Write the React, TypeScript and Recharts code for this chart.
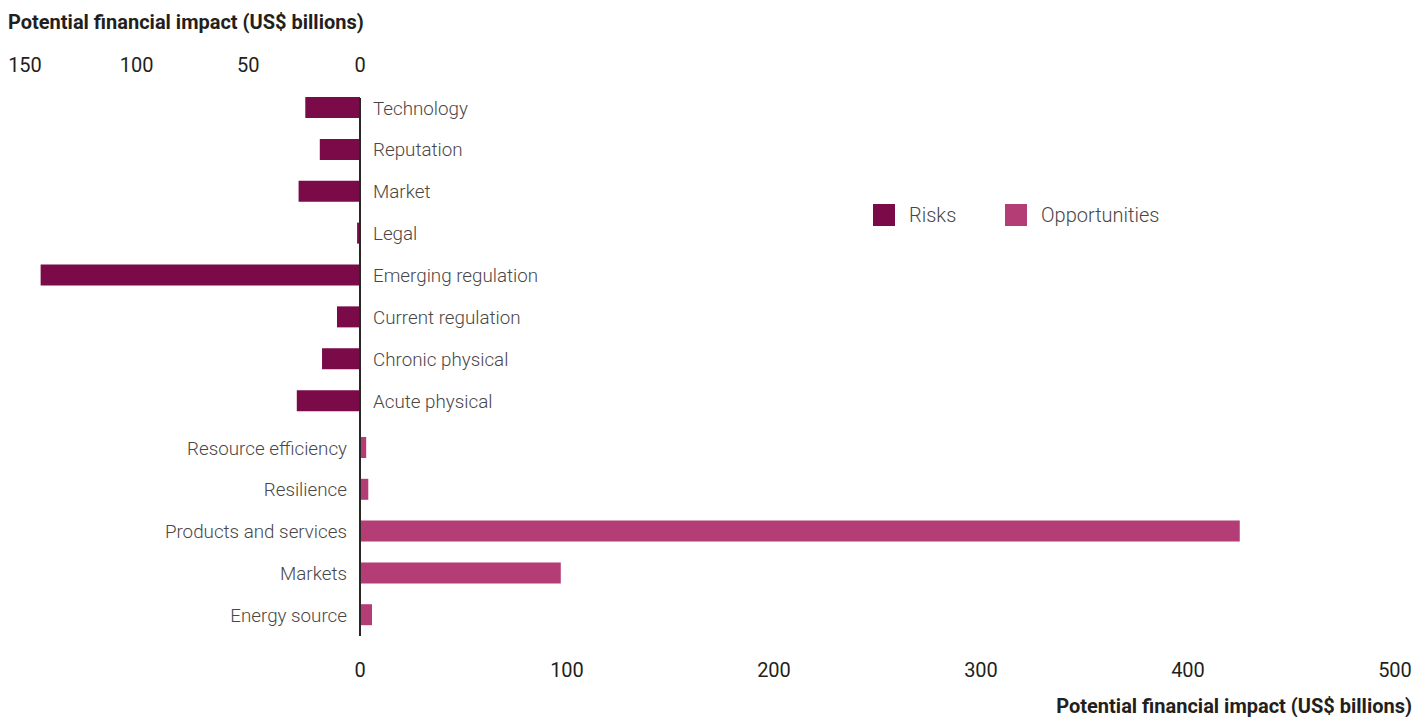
import { BarChart, Bar, XAxis, YAxis, Legend } from 'recharts';

const riskCategories = [
  'Technology',
  'Reputation',
  'Market',
  'Legal',
  'Emerging regulation',
  'Current regulation',
  'Chronic physical',
  'Acute physical',
];
const riskValues = [24.5, 18, 27.5, 1.3, 143, 10.3, 17, 28.3];

const opportunityCategories = [
  'Resource efficiency',
  'Resilience',
  'Products and services',
  'Markets',
  'Energy source',
];
const opportunityValues = [3, 4, 425, 97, 5.8];

const riskTicks = [0, 50, 100, 150];
const opportunityTicks = [0, 100, 200, 300, 400, 500];

const axisTitle = 'Potential financial impact (US$ billions)';

const riskColor = '#7a0a48';
const opportunityColor = '#b43d76';
const lineColor = '#2b2523';
const tickColor = '#231f20';
const labelColor = '#4a4646';
const font = 'Roboto, sans-serif';

const riskData = riskCategories.map((name, i) => ({ name, value: riskValues[i] }));
const opportunityData = opportunityCategories.map((name, i) => ({
  name,
  value: opportunityValues[i],
}));

const legendItems = [
  { label: 'Risks', color: riskColor },
  { label: 'Opportunities', color: opportunityColor },
];

const numberTick = { fill: tickColor, fontSize: 20, fontFamily: font };
const categoryTick = { fill: labelColor, fontSize: 18.8, fontFamily: font, fontWeight: 300 };

function LegendBox() {
  return (
    <div style={{ display: 'flex', fontFamily: font, whiteSpace: 'nowrap' }}>
      {legendItems.map((item) => (
        <div
          key={item.label}
          style={{ display: 'flex', alignItems: 'center', width: 132, flexShrink: 0 }}
        >
          <span
            style={{
              display: 'inline-block',
              flexShrink: 0,
              width: 22,
              height: 22,
              background: item.color,
              marginRight: 14,
            }}
          />
          <span style={{ fontSize: 20, fontWeight: 300, color: labelColor, lineHeight: '22px' }}>
            {item.label}
          </span>
        </div>
      ))}
    </div>
  );
}

export default function App() {
  const titleStyle = {
    position: 'absolute' as const,
    fontFamily: font,
    fontWeight: 700,
    fontSize: 20,
    lineHeight: '20px',
    color: tickColor,
    whiteSpace: 'nowrap' as const,
  };

  return (
    <div style={{ position: 'relative', width: 1412, height: 709, fontFamily: font }}>
      <div style={{ ...titleStyle, top: 4, left: 0 }}>{axisTitle}</div>

      {/* risks: reversed scale growing left from zero, labels on the right */}
      <div style={{ position: 'absolute', top: 32, left: 0 }}>
        <BarChart
          width={1412}
          height={382}
          data={riskData}
          layout="vertical"
          margin={{ top: 0, right: 860, bottom: 0, left: 17 }}
          barSize={21}
        >
          <XAxis
            type="number"
            orientation="top"
            domain={[0, 150]}
            ticks={riskTicks}
            reversed
            interval={0}
            axisLine={false}
            tickLine={false}
            tickSize={0}
            tickMargin={26}
            height={58}
            tick={numberTick}
          />
          <YAxis
            type="category"
            dataKey="name"
            orientation="right"
            width={200}
            interval={0}
            padding={{ top: -11, bottom: 0 }}
            axisLine={{ stroke: lineColor, strokeWidth: 2 }}
            tickLine={false}
            tickSize={0}
            tickMargin={13}
            tick={categoryTick}
          />
          <Bar dataKey="value" name="Risks" fill={riskColor} isAnimationActive={false} />
          <Legend
            layout="horizontal"
            verticalAlign="middle"
            align="center"
            wrapperStyle={{ top: 164, left: 865, width: 300 }}
            content={() => <LegendBox />}
          />
        </BarChart>
      </div>

      {/* opportunities: normal scale, labels on the left */}
      <div style={{ position: 'absolute', top: 414, left: 0 }}>
        <BarChart
          width={1412}
          height={268}
          data={opportunityData}
          layout="vertical"
          margin={{ top: 0, right: 25, bottom: 0, left: 0 }}
          barSize={21}
        >
          <XAxis
            type="number"
            domain={[0, 500]}
            ticks={opportunityTicks}
            interval={0}
            axisLine={false}
            tickLine={false}
            tickSize={0}
            tickMargin={27}
            height={54}
            tick={numberTick}
          />
          <YAxis
            type="category"
            dataKey="name"
            width={352}
            interval={0}
            padding={{ top: 5, bottom: 0 }}
            axisLine={{ stroke: lineColor, strokeWidth: 2 }}
            tickLine={false}
            tickSize={0}
            tickMargin={13}
            tick={categoryTick}
          />
          <Bar
            dataKey="value"
            name="Opportunities"
            fill={opportunityColor}
            isAnimationActive={false}
          />
        </BarChart>
      </div>

      <div style={{ ...titleStyle, top: 688, right: 8 }}>{axisTitle}</div>
    </div>
  );
}
